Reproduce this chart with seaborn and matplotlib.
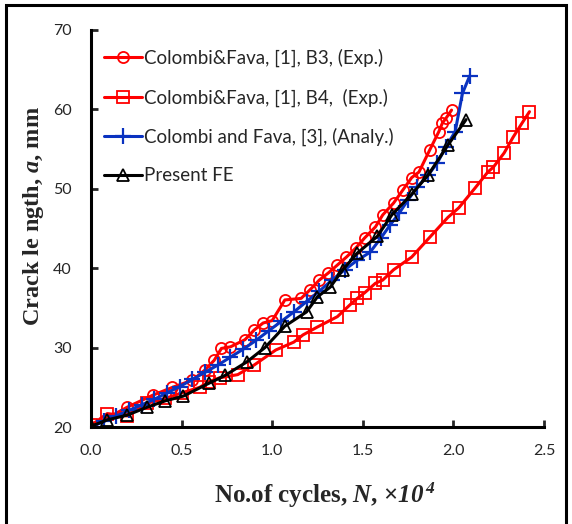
import matplotlib
matplotlib.use('Agg')
import matplotlib.pyplot as plt
import seaborn as sns
from matplotlib.patches import Rectangle

# dados (N x10^4, a em mm)
b3_n = [0, 0.2, 0.34, 0.45, 0.56, 0.63, 0.68, 0.72, 0.77, 0.85, 0.9, 0.95, 1.0, 1.07, 1.16,
        1.21, 1.26, 1.31, 1.36, 1.41, 1.46, 1.51, 1.57, 1.61, 1.67, 1.72, 1.77, 1.81, 1.87,
        1.92, 1.94, 1.96, 1.99]
b3_a = [20, 22.5, 24.0, 25.0, 25.9, 27.2, 28.4, 29.9, 30.1, 31.0, 32.2, 33.1, 33.4, 36.0, 36.2,
        37.3, 38.5, 39.4, 40.4, 41.4, 42.5, 43.8, 45.2, 46.7, 48.2, 49.8, 51.4, 52.1, 54.9,
        57.2, 58.3, 58.9, 59.9]

b4_n = [0, 0.09, 0.2, 0.31, 0.41, 0.5, 0.6, 0.65, 0.71, 0.81, 0.9, 1.02, 1.12, 1.17, 1.25,
        1.36, 1.43, 1.47, 1.51, 1.57, 1.61, 1.67, 1.77, 1.87, 1.97, 2.03, 2.12, 2.19, 2.22,
        2.28, 2.33, 2.38, 2.42]
b4_a = [20.2, 21.7, 21.4, 23.0, 23.6, 24.3, 25.0, 25.7, 26.2, 26.6, 27.8, 29.7, 30.7, 31.6, 32.6,
        33.9, 35.4, 36.2, 36.9, 38.1, 38.5, 39.8, 41.4, 43.9, 46.4, 47.6, 50.1, 52.1, 52.7,
        54.5, 56.5, 58.3, 59.7]

an_n = [0, 0.07, 0.14, 0.21, 0.28, 0.35, 0.42, 0.49, 0.56, 0.63, 0.7, 0.77, 0.84, 0.91, 0.98,
        1.05, 1.12, 1.19, 1.26, 1.33, 1.4, 1.47, 1.54, 1.6, 1.65, 1.7, 1.75, 1.8, 1.86, 1.91,
        1.96, 2.01, 2.05, 2.09]
an_a = [20, 20.7, 21.4, 22.1, 22.8, 23.5, 24.3, 25.1, 26.0, 26.9, 27.8, 28.8, 29.8, 30.9, 32.1,
        33.3, 34.5, 35.8, 37.1, 38.5, 39.8, 41.0, 42.0, 43.8, 45.4, 46.9, 48.6, 50.2, 51.7, 53.2,
        55.3, 57.2, 62.0, 64.2]

fe_n = [0, 0.09, 0.2, 0.31, 0.41, 0.51, 0.65, 0.74, 0.86, 0.96, 1.07, 1.19, 1.25, 1.32, 1.39,
        1.47, 1.58, 1.66, 1.77, 1.86, 1.97, 2.07]
fe_a = [20.1, 20.9, 21.5, 22.5, 23.3, 23.9, 25.5, 26.5, 28.2, 30.0, 32.7, 34.5, 36.4, 37.6, 39.8,
        41.9, 44.0, 46.7, 49.3, 51.7, 55.5, 58.7]

labels = ['Colombi&Fava, [1], B3, (Exp.)', 'Colombi&Fava, [1], B4,  (Exp.)',
          'Colombi and Fava, [3], (Analy.)', 'Present FE']

sns.set_style('white')
plt.rcParams['font.family'] = ['Lato', 'DejaVu Sans']
plt.rcParams['mathtext.fontset'] = 'custom'
plt.rcParams['mathtext.rm'] = 'Liberation Serif:bold'
plt.rcParams['mathtext.it'] = 'Liberation Serif:italic:bold'
# bf usado para os dígitos em itálico (o "it" do mathtext força dígitos em romano)
plt.rcParams['mathtext.bf'] = 'Liberation Serif:italic:bold'

fig = plt.figure(figsize=(5.72, 5.24), dpi=100)
ax = fig.add_axes([0.159, 0.185, 0.792, 0.758])

red = '#FF0000'
blue = '#0A32C0'
sns.lineplot(x=b3_n, y=b3_a, ax=ax, color=red, lw=2.2, marker='o', ms=8, mfc='none',
             mec=red, mew=1.3, label=labels[0], sort=False)
sns.lineplot(x=b4_n, y=b4_a, ax=ax, color=red, lw=2.2, marker='s', ms=8, mfc='none',
             mec=red, mew=1.3, label=labels[1], sort=False)
sns.lineplot(x=an_n, y=an_a, ax=ax, color=blue, lw=2.2, marker='+', ms=11, mec=blue,
             mew=1.6, label=labels[2], sort=False)
sns.lineplot(x=fe_n, y=fe_a, ax=ax, color='black', lw=2.2, marker='^', ms=8, mfc='none',
             mec='black', mew=1.3, label=labels[3], sort=False)

ax.set_xlim(0, 2.5)
ax.set_ylim(20, 70)
ax.set_xticks([0, 0.5, 1.0, 1.5, 2.0, 2.5])
ax.set_xticklabels(['0.0', '0.5', '1.0', '1.5', '2.0', '2.5'])
ax.set_yticks(range(20, 71, 10))
ax.tick_params(axis='both', direction='in', length=5, width=2, labelsize=11.5, pad=12,
               left=True, bottom=True)
ax.tick_params(axis='y', pad=14)
for s in ['top', 'right']:
    ax.spines[s].set_visible(False)
for s in ['left', 'bottom']:
    ax.spines[s].set_linewidth(2.2)
    ax.spines[s].set_color('black')

ax.set_xlabel('No.of cycles, $N$, ×$\\mathbf{10}^{\\,\\mathbf{4}}$', fontfamily='Liberation Serif',
              fontweight='bold', fontsize=18)
ax.set_ylabel('Crack le ngth, $a$, mm', fontfamily='Liberation Serif', fontweight='bold',
              fontsize=17.5)
ax.xaxis.set_label_coords(0.517, -0.135)
ax.yaxis.set_label_coords(-0.1, 0.53)

ax.legend(loc='upper left', bbox_to_anchor=(0.0, 0.985), frameon=False, fontsize=13.5,
          labelspacing=1.13, handlelength=2.0, handletextpad=0.15, borderaxespad=0.3)

# moldura da figura
fig.add_artist(Rectangle((6 / 572, -0.05), 560 / 572, 1.05 - 5 / 524, transform=fig.transFigure,
                         fill=False, lw=2.2, edgecolor='black'))

fig.savefig('out.png', dpi=100)
